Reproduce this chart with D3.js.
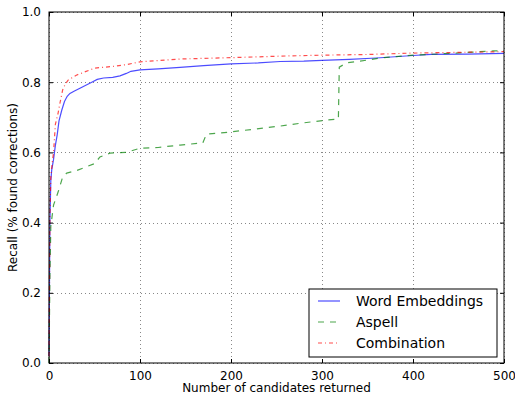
<!DOCTYPE html>
<html>
<head>
<script src="https://d3js.org/d3.v7.min.js"></script>
<style>
  body { margin: 0; background: #fff; }
  text { font-family: "DejaVu Sans", sans-serif; }
</style>
</head>
<body>
<svg id="chart" width="515" height="398"></svg>
<script>
// Data
var xTicks = [0, 100, 200, 300, 400, 500];
var yTicks = [0.0, 0.2, 0.4, 0.6, 0.8, 1.0];

var embX = [0, 1, 2, 3, 5, 7, 9, 11, 14, 17, 20, 23, 28, 34, 41, 47, 53, 60, 70, 78, 85, 90, 100, 120, 144, 170, 200, 230, 254, 280, 300, 330, 360, 400, 420, 460, 500];
var embY = [0.02, 0.40, 0.52, 0.55, 0.58, 0.62, 0.65, 0.69, 0.72, 0.745, 0.76, 0.768, 0.775, 0.783, 0.792, 0.80, 0.808, 0.812, 0.814, 0.818, 0.825, 0.831, 0.835, 0.838, 0.842, 0.847, 0.852, 0.855, 0.859, 0.86, 0.862, 0.865, 0.869, 0.876, 0.879, 0.88, 0.882];

var aspX = [0, 1, 2, 3, 5, 10, 15, 19.5, 30, 40, 50, 56, 67, 85, 100, 120, 144, 169, 173, 199, 228, 254, 279, 305, 318, 319, 327, 342, 364, 400, 440, 488, 500];
var aspY = [0, 0.25, 0.39, 0.41, 0.45, 0.487, 0.53, 0.541, 0.548, 0.558, 0.568, 0.587, 0.598, 0.60, 0.612, 0.614, 0.621, 0.627, 0.652, 0.658, 0.667, 0.675, 0.684, 0.692, 0.695, 0.843, 0.855, 0.86, 0.869, 0.877, 0.882, 0.889, 0.89];

var combX = [0, 1, 2, 4, 5, 7, 10, 12, 15, 18, 21, 30, 40, 50, 70, 85, 100, 144, 200, 265, 300, 350, 400, 450, 500];
var combY = [0.02, 0.42, 0.53, 0.58, 0.60, 0.68, 0.712, 0.74, 0.778, 0.795, 0.806, 0.82, 0.83, 0.84, 0.845, 0.85, 0.858, 0.866, 0.87, 0.875, 0.877, 0.879, 0.883, 0.885, 0.887];

var seriesNames = ["Word Embeddings", "Aspell", "Combination"];

var series = [
  { name: seriesNames[0], xs: embX, ys: embY, color: "#0000ff", dash: null },
  { name: seriesNames[1], xs: aspX, ys: aspY, color: "#008000", dash: "6,6" },
  { name: seriesNames[2], xs: combX, ys: combY, color: "#ff0000", dash: "4,3,1,3" }
];

// plot box (top is reserved on window, so use p*)
var pLeft = 49, pRight = 504, pTop = 12, pBottom = 363;
var svg = d3.select("#chart");

var x = d3.scaleLinear().domain([0, 500]).range([pLeft, pRight]);
var y = d3.scaleLinear().domain([0, 1]).range([pBottom, pTop]);

// grid
svg.append("g")
  .selectAll("line")
  .data(xTicks)
  .enter().append("line")
  .attr("x1", function(d) { return Math.round(x(d)) + 0.5; })
  .attr("x2", function(d) { return Math.round(x(d)) + 0.5; })
  .attr("y1", pTop).attr("y2", pBottom)
  .attr("stroke", "#888").attr("stroke-width", 1).attr("stroke-dasharray", "1,3");

svg.append("g")
  .selectAll("line")
  .data(yTicks)
  .enter().append("line")
  .attr("y1", function(d) { return Math.round(y(d)) + 0.5; })
  .attr("y2", function(d) { return Math.round(y(d)) + 0.5; })
  .attr("x1", pLeft).attr("x2", pRight)
  .attr("stroke", "#888").attr("stroke-width", 1).attr("stroke-dasharray", "1,3");

// lines
var line = d3.line()
  .x(function(d) { return x(d[0]); })
  .y(function(d) { return y(d[1]); });

series.forEach(function(s) {
  var pts = s.xs.map(function(v, i) { return [v, s.ys[i]]; });
  svg.append("path")
    .datum(pts)
    .attr("d", line)
    .attr("fill", "none")
    .attr("stroke", s.color)
    .attr("stroke-opacity", 0.7)
    .attr("stroke-width", 1.2)
    .attr("stroke-dasharray", s.dash);
});

// axes with inward ticks
var axB = svg.append("g").attr("transform", "translate(0," + pBottom + ")")
  .call(d3.axisBottom(x).tickValues(xTicks).tickSizeInner(-4).tickSizeOuter(0).tickPadding(8).tickFormat(d3.format("d")));
var axT = svg.append("g").attr("transform", "translate(0," + pTop + ")")
  .call(d3.axisTop(x).tickValues(xTicks).tickSizeInner(-4).tickSizeOuter(0).tickFormat(""));
var axL = svg.append("g").attr("transform", "translate(" + pLeft + ",0)")
  .call(d3.axisLeft(y).tickValues(yTicks).tickSizeInner(-4).tickSizeOuter(0).tickPadding(8).tickFormat(d3.format(".1f")));
var axR = svg.append("g").attr("transform", "translate(" + pRight + ",0)")
  .call(d3.axisRight(y).tickValues(yTicks).tickSizeInner(-4).tickSizeOuter(0).tickFormat(""));

[axB, axT, axL, axR].forEach(function(a) {
  a.select(".domain").remove();
  a.selectAll("text").style("font-size", "12px").attr("fill", "#000");
  a.selectAll("line").attr("stroke", "#000");
});

// frame
svg.append("rect")
  .attr("x", pLeft).attr("y", pTop)
  .attr("width", pRight - pLeft).attr("height", pBottom - pTop)
  .attr("fill", "none").attr("stroke", "#000").attr("stroke-width", 1);

// axis labels
svg.append("text")
  .attr("x", (pLeft + pRight) / 2).attr("y", 392)
  .attr("text-anchor", "middle").style("font-size", "12px")
  .text("Number of candidates returned");

svg.append("text")
  .attr("transform", "translate(17," + ((pTop + pBottom) / 2) + ") rotate(-90)")
  .attr("text-anchor", "middle").style("font-size", "12px")
  .text("Recall (% found corrections)");

// legend
var lg = svg.append("g");
lg.append("rect")
  .attr("x", 309).attr("y", 289).attr("width", 188).attr("height", 68)
  .attr("fill", "#fff").attr("stroke", "#000").attr("stroke-width", 1);

series.forEach(function(s, i) {
  var ly = 301 + i * 21;
  lg.append("line")
    .attr("x1", 318).attr("x2", 340).attr("y1", ly).attr("y2", ly)
    .attr("stroke", s.color).attr("stroke-opacity", 0.7).attr("stroke-width", 1.2)
    .attr("stroke-dasharray", s.dash);
  lg.append("text")
    .attr("x", 356).attr("y", ly + 5)
    .style("font-size", "14px")
    .text(s.name);
});
</script>
</body>
</html>
